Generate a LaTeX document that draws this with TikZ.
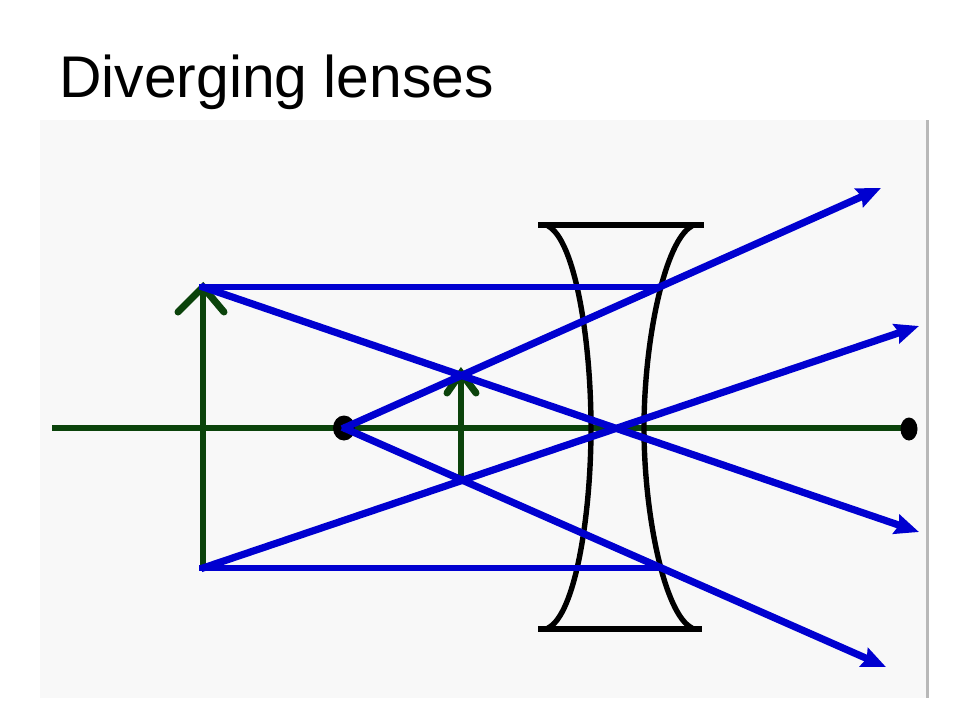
\documentclass[tikz,border=0pt]{standalone}
\usepackage{fontspec}
\setmainfont{Liberation Sans}
\usetikzlibrary{arrows.meta,shapes.geometric}
\definecolor{panelgrey}{HTML}{F8F8F8}
\definecolor{edgegrey}{HTML}{B8B8B8}
\definecolor{axisgreen}{HTML}{0B430B}
\definecolor{rayblue}{HTML}{0000D0}
\tikzset{
  axisline/.style={draw=axisgreen,line width=5.6pt},
  objline/.style={draw=axisgreen,line width=5.2pt},
  chevron/.style={draw=axisgreen,line width=7pt,line cap=round,line join=miter},
  lensline/.style={draw=black,line width=5.4pt,line join=round},
  lensbar/.style={draw=black,line width=6.4pt},
  ray/.style={draw=rayblue,line width=6.6pt,shorten <=-4pt},
  rayout/.style={draw=rayblue,line width=7.2pt,shorten <=-2pt,-{Stealth[length=24pt,width=20pt,inset=3pt]}},
  dot/.style={fill=black,draw=none,ellipse,inner sep=0pt},
  title/.style={font=\fontsize{58.8pt}{60pt}\selectfont,anchor=base west,inner sep=0pt,text=black}
}
\begin{document}
\begin{tikzpicture}[x=1pt,y=-1pt]
\useasboundingbox (0,0) rectangle (960,720);
\fill[white] (0,0) rectangle (960,720);
\fill[panelgrey] (40,120) rectangle (926,698);
\fill[edgegrey] (926,120) rectangle (928.5,698);
\node[title] (heading) at (59,97) {Diverging lenses};

% points
\coordinate (axisL) at (52,428);
\coordinate (axisR) at (909,428);
\coordinate (objTop) at (203,287);
\coordinate (objBase) at (203,568);
\coordinate (imgTop) at (461,373);
\coordinate (imgBase) at (461,480);
\coordinate (lensU) at (659,287);
\coordinate (lensD) at (660,568);
\coordinate (outA) at (881,188);
\coordinate (outB) at (919,326);
\coordinate (outC) at (919,532);
\coordinate (outD) at (886,667);

% axis and arrows
\draw[axisline] (axisL) -- (axisR);
\node[dot,minimum width=22pt,minimum height=25pt] (focusL) at (344,428) {};
\node[dot,minimum width=17pt,minimum height=23pt] (focusR) at (909,429) {};
\draw[objline] (objBase) -- (objTop);
\draw[chevron] (178,312) -- (objTop) -- (224,312);
\draw[objline] (imgBase) -- (imgTop);
\draw[chevron] (447,393) -- (imgTop) -- (476,393);

% lens
\draw[lensbar] (538,225) -- (704,225);
\draw[lensbar] (538,629) -- (702,629);
\draw[lensline] (548,226) .. controls (575,240) and (591,340) .. (591,428) .. controls (591,516) and (575,615) .. (548,628);
\draw[lensline] (692,226) .. controls (665,240) and (644,340) .. (644,428) .. controls (644,516) and (665,615) .. (692,628);

% rays
\draw[ray] (objTop) -- (lensU);
\draw[ray] (objBase) -- (lensD);
\draw[rayout] (focusL.center) -- (outA);
\draw[rayout] (focusL.center) -- (outD);
\draw[rayout] (objTop) -- (outC);
\draw[rayout] (objBase) -- (outB);
\end{tikzpicture}
\end{document}
